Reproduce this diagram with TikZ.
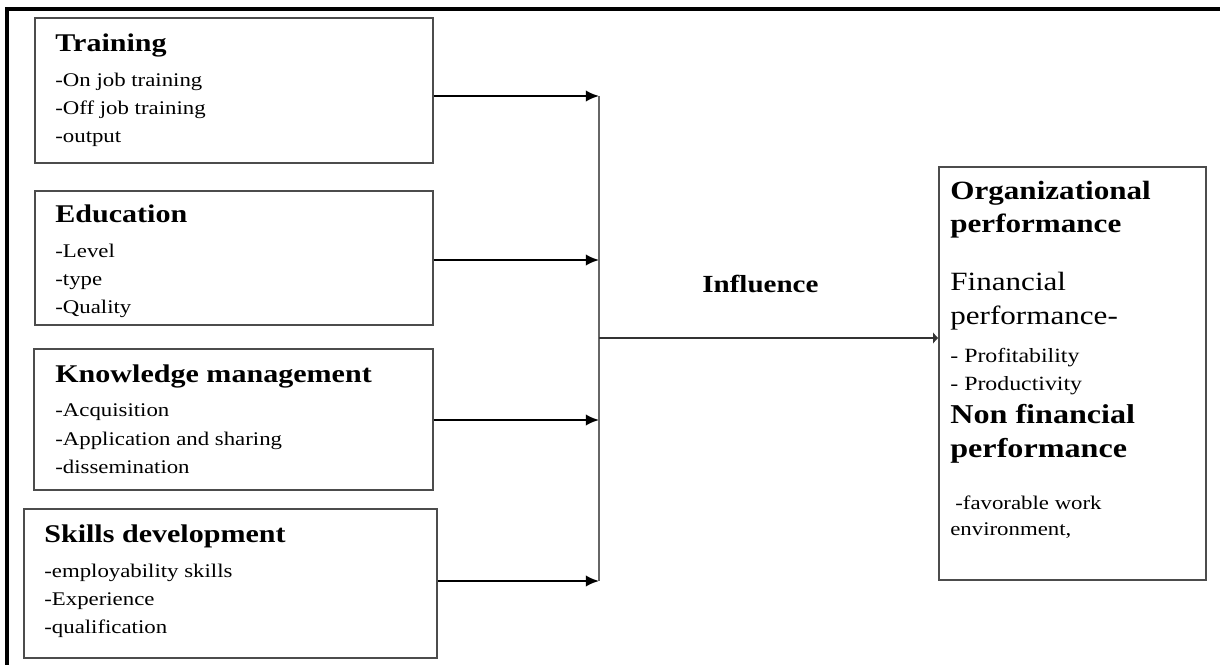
\documentclass[tikz,border=0pt]{standalone}
\usepackage{fontspec}
\setmainfont{Liberation Serif}[FakeStretch=1.18]
\usetikzlibrary{arrows.meta}
\usetikzlibrary{fit}
\tikzset{
box/.style={draw=black!70, line width=0.8pt, inner sep=0pt},
head/.style={anchor=base west, inner sep=0pt, font=\fontsize{14.5}{17}\selectfont\bfseries},
item/.style={anchor=base west, inner sep=0pt, font=\fontsize{11}{13}\selectfont},
big/.style={anchor=base west, inner sep=0pt, font=\fontsize{15}{17}\selectfont},
link/.style={line width=1.2pt, -{Latex[length=7.5pt,width=6.5pt]}},
}

\begin{document}
\begin{tikzpicture}[x=0.02cm, y=-0.02cm]
\useasboundingbox (0,0) rectangle (1220,665);
%Frame
\draw[line width=2pt] (7,665) -- (7,9) -- (1220,9);

%Place the boxes
\node[box, fit={(35,18) (433,163)}] (train) {};
\node[box, fit={(35,191) (433,325)}] (edu) {};
\node[box, fit={(34,349) (433,490)}] (know) {};
\node[box, fit={(24,509) (437,658)}] (skill) {};
\node[box, fit={(939,167) (1206,580)}] (perf) {};

%Headings
\node[head] (trainh) at (55,52) {Training};
\node[head] (eduh) at (55,223) {Education};
\node[head] (knowh) at (55,382) {Knowledge management};
\node[head] (skillh) at (44,542) {Skills development};

%Items
\foreach \txt [count=\i] in {-On job training, -Off job training, -output}
	\node[item] (train\i) at (55,59+28*\i) {\txt};
\foreach \txt [count=\i] in {-Level, -type, -Quality}
	\node[item] (edu\i) at (55,230+28*\i) {\txt};
\foreach \txt [count=\i] in {-Acquisition, -Application and sharing, -dissemination}
	\node[item] (know\i) at (55,388+28.5*\i) {\txt};
\foreach \txt [count=\i] in {-employability skills, -Experience, -qualification}
	\node[item] (skill\i) at (44,549+28*\i) {\txt};

%Performance box
\node[head, font=\fontsize{15}{17}\selectfont\bfseries] (org1) at (950,200) {Organizational};
\node[head, font=\fontsize{15}{17}\selectfont\bfseries] (org2) at (950,233) {performance};
\node[big] (fin1) at (950,291) {Financial};
\node[big] (fin2) at (950,325) {performance-};
\node[item, font=\fontsize{11.5}{13}\selectfont] (fin3) at (950,362) {- Profitability};
\node[item, font=\fontsize{11.5}{13}\selectfont] (fin4) at (950,391) {- Productivity};
\node[head, font=\fontsize{15.5}{17}\selectfont\bfseries] (non1) at (950,423) {Non financial};
\node[head, font=\fontsize{15.5}{17}\selectfont\bfseries] (non2) at (950,457) {performance};
\node[item] (non3) at (955,509) {-favorable work};
\node[item] (non4) at (950,535) {environment,};

\node[head, font=\fontsize{14}{16}\selectfont\bfseries] (infl) at (702,293) {Influence};

%Connectors
\coordinate (j1) at (599,96);
\coordinate (j2) at (599,260);
\coordinate (j3) at (599,420);
\coordinate (j4) at (599,581);
\coordinate (jm) at (599,338);
\draw[link] (j1 -| train.east) -- (j1);
\draw[link] (j2 -| edu.east) -- (j2);
\draw[link] (j3 -| know.east) -- (j3);
\draw[link] (j4 -| skill.east) -- (j4);
\draw[black!60, line width=1pt] (j1) -- (j4);
\draw[black!80, line width=1.2pt, -{Latex[length=3pt,width=7pt]}] (jm) -- (jm -| perf.west);

\end{tikzpicture}
\end{document}
